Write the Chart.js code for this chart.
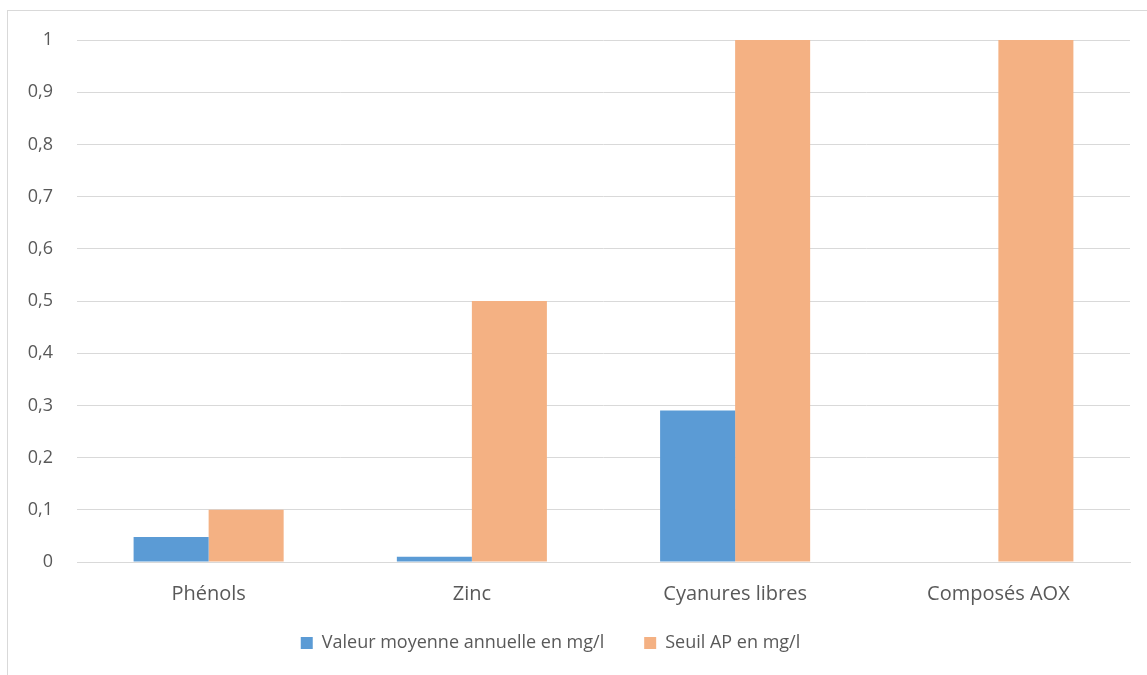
<!DOCTYPE html>
<html><head><meta charset="utf-8">
<script src="https://cdn.jsdelivr.net/npm/chart.js@4/dist/chart.umd.min.js"></script>
<style>html,body{margin:0;padding:0;background:#fff}#wrap{width:1147px;height:675px}</style>
</head><body><div id="wrap"><canvas id="c" width="1147" height="675"></canvas></div>
<script>
const categories = ["Phénols", "Zinc", "Cyanures libres", "Composés AOX"];
const valeurMoyenne = [0.048, 0.01, 0.29, 0];
const seuilAP = [0.1, 0.5, 1, 1];
const seriesNames = ["Valeur moyenne annuelle en mg/l", "Seuil AP en mg/l"];

const borderPlugin = {
  id: 'outerBorder',
  beforeDraw(chart) {
    const ctx = chart.ctx;
    ctx.save();
    ctx.fillStyle = '#fff';
    ctx.fillRect(0, 0, chart.width, chart.height);
    ctx.strokeStyle = '#D9D9D9';
    ctx.lineWidth = 1;
    ctx.strokeRect(7.5, 10.5, 1300, 800);
    ctx.restore();
  }
};

// widen the horizontal gap between legend items without changing legend height
const legendSpacing = {
  id: 'legendSpacing',
  afterLayout(chart) {
    const L = chart.legend;
    if (!L || !L.lineWidths) return;
    const base = 8, wide = 40, extra = wide - base;
    L.options.labels.padding = wide;
    L.lineWidths = L.lineWidths.map(w => w + extra * 2);
    L.top -= extra;
    L.left -= 18; L.right -= 18;
  },
  afterDraw(chart) {
    const L = chart.legend;
    if (L) L.options.labels.padding = 8;
  }
};

Chart.defaults.font.family = "'Open Sans', 'Liberation Sans', sans-serif";
Chart.defaults.color = '#595959';

new Chart(document.getElementById('c'), {
  type: 'bar',
  data: {
    labels: categories,
    datasets: [
      { label: seriesNames[0], data: valeurMoyenne, backgroundColor: '#5B9BD5', barPercentage: 1, categoryPercentage: 0.57 },
      { label: seriesNames[1], data: seuilAP, backgroundColor: '#F4B183', barPercentage: 1, categoryPercentage: 0.57 }
    ]
  },
  options: {
    responsive: false,
    animation: false,
    layout: { padding: { left: 7, right: 17, top: 40, bottom: 13 } },
    plugins: {
      legend: {
        position: 'bottom',
        labels: { boxWidth: 12, boxHeight: 12, font: { size: 18 }, padding: 8, color: '#595959' }
      },
      tooltip: { enabled: false }
    },
    scales: {
      x: {
        grid: { display: false, drawTicks: false },
        border: { display: true, color: '#D9D9D9' },
        ticks: { font: { size: 20 }, padding: 20, color: '#595959' }
      },
      y: {
        min: 0, max: 1,
        afterFit(scale) { scale.width = 70; },
        grid: { color: '#D9D9D9', drawTicks: false },
        border: { display: false },
        ticks: {
          stepSize: 0.1, font: { size: 18 }, padding: 24, color: '#595959',
          callback: v => (Math.round(v * 10) / 10).toString().replace('.', ',')
        }
      }
    }
  },
  plugins: [borderPlugin, legendSpacing]
});
</script></body></html>
